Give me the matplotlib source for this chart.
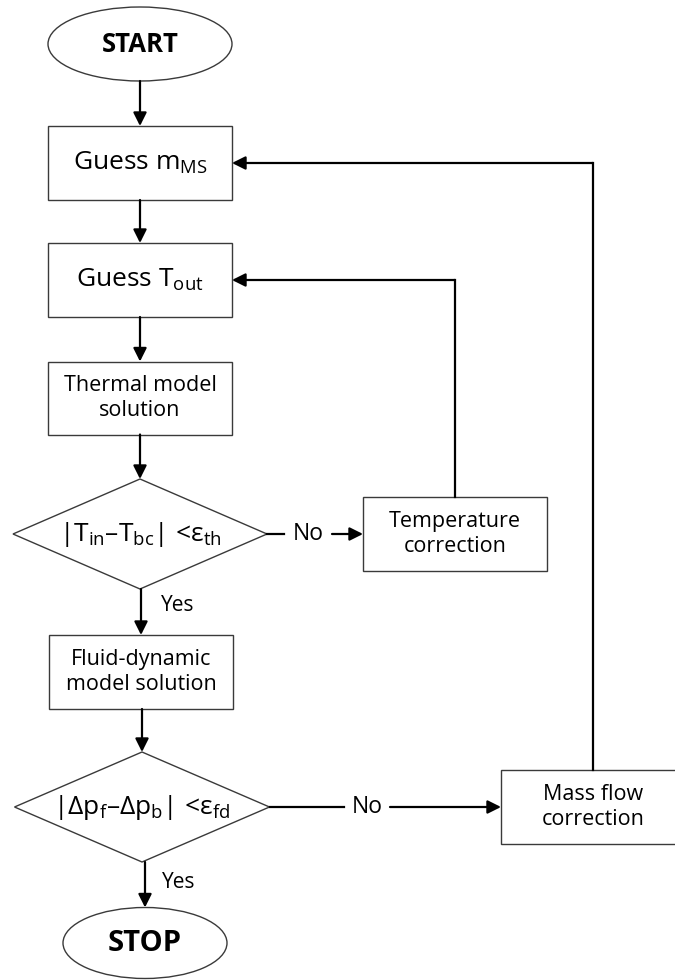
import matplotlib.pyplot as plt
from matplotlib.patches import Ellipse, Rectangle, Polygon

plt.rcParams['font.family'] = ['Open Sans', 'DejaVu Sans']
plt.rcParams['mathtext.fontset'] = 'custom'
plt.rcParams['mathtext.rm'] = 'Open Sans'
plt.rcParams['mathtext.it'] = 'Open Sans'

# flowchart nodes: labels and kinds
labels = ["START", r"Guess m$_{\rm MS}$", r"Guess T$_{\rm out}$",
          "Thermal model\nsolution", r"|T$_{\rm in}$–T$_{\rm bc}$| <ε$_{\rm th}$",
          "Fluid-dynamic\nmodel solution", r"|Δp$_{\rm f}$–Δp$_{\rm b}$| <ε$_{\rm fd}$",
          "STOP", "Temperature\ncorrection", "Mass flow\ncorrection"]
kinds = ["ellipse", "box", "box", "box", "diamond", "box", "diamond",
         "ellipse", "box", "box"]
# centres and sizes in pixels (y down)
cx = [140, 140, 140, 140, 140, 141, 142, 145, 455, 593]
cy = [44, 163, 280, 398, 534, 672, 807, 943, 534, 807]
w = [184, 184, 184, 184, 254, 184, 255, 164, 184, 184]
h = [74, 74, 74, 73, 110, 74, 110, 71, 74, 74]
fs = [18.5, 19, 19, 15.5, 19, 15.5, 19, 21, 15.5, 15.5]

fig = plt.figure(figsize=(6.75, 9.8), dpi=100)
ax = fig.add_axes([0, 0, 1, 1])
ax.set_xlim(0, 675)
ax.set_ylim(980, 0)
ax.axis('off')

edge = '#3a3a3a'
for lab, k, x, y, ww, hh, f in zip(labels, kinds, cx, cy, w, h, fs):
    if k == "ellipse":
        ax.add_patch(Ellipse((x, y), ww, hh, fc='white', ec=edge, lw=1.0))
        ax.text(x, y, lab, ha='center', va='center', fontsize=f,
                fontweight='bold')
    elif k == "box":
        ax.add_patch(Rectangle((x - ww / 2, y - hh / 2), ww, hh,
                               fc='white', ec=edge, lw=1.0))
        ax.text(x, y, lab, ha='center', va='center', fontsize=f,
                linespacing=1.25)
    else:
        pts = [(x - ww / 2, y), (x, y - hh / 2), (x + ww / 2, y), (x, y + hh / 2)]
        ax.add_patch(Polygon(pts, closed=True, fc='white', ec=edge, lw=1.0))
        ax.text(x, y, lab, ha='center', va='center', fontsize=f)


def arrow(p0, p1):
    ax.annotate('', xy=p1, xytext=p0,
                arrowprops=dict(arrowstyle='-|>', color='black', lw=1.6,
                                mutation_scale=20, shrinkA=0, shrinkB=0))


def top(i):
    return cy[i] - h[i] / 2


def bottom(i):
    return cy[i] + h[i] / 2


# straight down arrows
for a, b in [(0, 1), (1, 2), (2, 3), (3, 4), (4, 5), (5, 6), (6, 7)]:
    arrow((cx[b], bottom(a)), (cx[b], top(b)))

# No branch 1 -> temperature correction
ax.plot([cx[4] + w[4] / 2, 284], [cy[4], cy[4]], color='black', lw=1.6)
ax.text(308, cy[4], "No", ha='center', va='center', fontsize=16.5)
arrow((332, cy[4]), (cx[8] - w[8] / 2, cy[8]))
# temperature correction -> guess T_out
ax.plot([cx[8], cx[8]], [top(8), cy[2]], color='black', lw=1.6)
arrow((cx[8], cy[2]), (cx[2] + w[2] / 2, cy[2]))

# No branch 2 -> mass flow correction
ax.plot([cx[6] + w[6] / 2, 344], [cy[6], cy[6]], color='black', lw=1.6)
ax.text(367, cy[6], "No", ha='center', va='center', fontsize=16.5)
arrow((390, cy[6]), (cx[9] - w[9] / 2, cy[9]))
# mass flow correction -> guess m_MS
ax.plot([cx[9], cx[9]], [top(9), cy[1]], color='black', lw=1.6)
arrow((cx[9], cy[1]), (cx[1] + w[1] / 2, cy[1]))

# Yes labels
ax.text(178, 605, "Yes", ha='center', va='center', fontsize=15)
ax.text(179, 882, "Yes", ha='center', va='center', fontsize=15)

plt.savefig("out.png", dpi=100)
